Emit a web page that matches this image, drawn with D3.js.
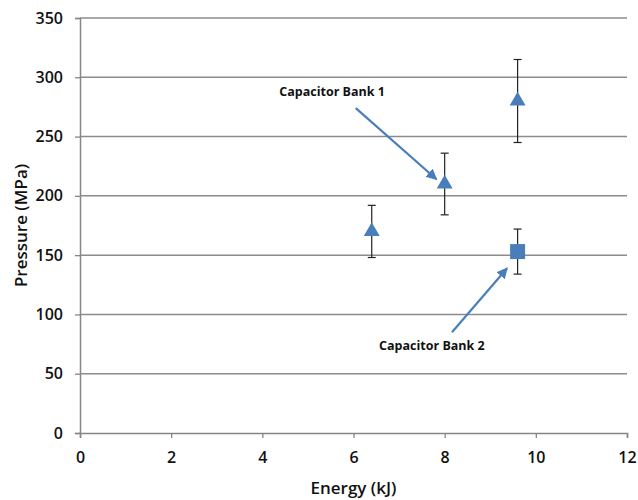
<!DOCTYPE html>
<html>
<head>
<meta charset="utf-8">
<script src="https://cdn.jsdelivr.net/npm/d3@7"></script>
<style>
  body { margin: 0; background: #fff; }
  text { font-family: "Open Sans", "Liberation Sans", sans-serif; }
</style>
</head>
<body>
<div id="chart"></div>
<script>
// values
var bank1Energy = [6.4, 8, 9.6],
    bank1Pressure = [170, 210, 280],
    bank1Err = [22, 26, 35],
    bank2Energy = [9.6],
    bank2Pressure = [153],
    bank2Err = [19],
    xTicks = [0, 2, 4, 6, 8, 10, 12],
    yTicks = [0, 50, 100, 150, 200, 250, 300, 350];

var width = 638, height = 500,
    margin = {top: 18, right: 11, bottom: 67, left: 80},
    blue = "#4a7ebb";

var svg = d3.select("#chart").append("svg")
    .attr("width", width)
    .attr("height", height);

var x = d3.scaleLinear().domain([0, 12]).range([margin.left, width - margin.right]);
var y = d3.scaleLinear().domain([0, 350]).range([height - margin.bottom, margin.top]);

// gridlines
svg.selectAll("line.grid")
    .data(yTicks.filter(function (d) { return d > 0; }))
    .enter().append("line")
    .attr("class", "grid")
    .attr("x1", x(0)).attr("x2", x(12))
    .attr("y1", function (d) { return y(d); })
    .attr("y2", function (d) { return y(d); })
    .attr("stroke", "#8c8c8c")
    .attr("stroke-width", 1.5);

// axes
var yAxis = svg.append("g")
    .attr("transform", "translate(" + x(0) + ",0)")
    .call(d3.axisLeft(y).tickValues(yTicks).tickSize(5).tickPadding(12));
var xAxis = svg.append("g")
    .attr("transform", "translate(0," + y(0) + ")")
    .call(d3.axisBottom(x).tickValues(xTicks).tickSize(5).tickPadding(14));

[xAxis, yAxis].forEach(function (a) {
    a.select(".domain").attr("stroke", "#868686").attr("stroke-width", 1.5);
    a.selectAll(".tick line").attr("stroke", "#868686").attr("stroke-width", 1.3);
    a.selectAll(".tick text")
        .attr("fill", "#111")
        .style("font-size", "16px")
        .style("font-weight", "600");
});

// axis titles
svg.append("text")
    .attr("transform", "translate(27," + y(175) + ") rotate(-90)")
    .attr("text-anchor", "middle")
    .style("font-size", "17px")
    .style("font-weight", "600")
    .attr("fill", "#111")
    .text("Pressure (MPa)");
svg.append("text")
    .attr("x", (x(0) + x(12)) / 2)
    .attr("y", 494)
    .attr("text-anchor", "middle")
    .style("font-size", "17px")
    .style("font-weight", "600")
    .attr("fill", "#111")
    .text("Energy (kJ)");

// error bars
function drawErrors(ex, ey, ee) {
    var g = svg.append("g");
    ex.forEach(function (e, i) {
        var cx = x(e), top = y(ey[i] + ee[i]), bot = y(ey[i] - ee[i]);
        g.append("line").attr("x1", cx).attr("x2", cx).attr("y1", top).attr("y2", bot)
            .attr("stroke", "#222").attr("stroke-width", 1.2);
        [top, bot].forEach(function (yy) {
            g.append("line").attr("x1", cx - 4).attr("x2", cx + 4).attr("y1", yy).attr("y2", yy)
                .attr("stroke", "#222").attr("stroke-width", 1.2);
        });
    });
}
drawErrors(bank1Energy, bank1Pressure, bank1Err);
drawErrors(bank2Energy, bank2Pressure, bank2Err);

// markers
svg.selectAll("path.tri")
    .data(bank1Energy)
    .enter().append("path")
    .attr("class", "tri")
    .attr("d", d3.symbol().type(d3.symbolTriangle).size(110))
    .attr("transform", function (d, i) {
        return "translate(" + x(d) + "," + y(bank1Pressure[i]) + ")";
    })
    .attr("fill", blue);

svg.selectAll("rect.sq")
    .data(bank2Energy)
    .enter().append("rect")
    .attr("class", "sq")
    .attr("x", function (d) { return x(d) - 7.5; })
    .attr("y", function (d, i) { return y(bank2Pressure[i]) - 7.5; })
    .attr("width", 15).attr("height", 15)
    .attr("fill", blue);

// annotations
var defs = svg.append("defs");
defs.append("marker")
    .attr("id", "arrow")
    .attr("viewBox", "0 0 10 10")
    .attr("refX", 9).attr("refY", 5)
    .attr("markerWidth", 5).attr("markerHeight", 5)
    .attr("orient", "auto")
    .append("path")
    .attr("d", "M0,0 L10,5 L0,10 z")
    .attr("fill", blue);

function annotate(label, lx, ly, fromX, fromY, toX, toY) {
    svg.append("text")
        .attr("x", x(lx)).attr("y", y(ly))
        .attr("text-anchor", "middle")
        .style("font-size", "12.5px")
        .style("font-weight", "700")
        .attr("fill", "#111")
        .text(label);
    svg.append("line")
        .attr("x1", x(fromX)).attr("y1", y(fromY))
        .attr("x2", x(toX)).attr("y2", y(toY))
        .attr("stroke", blue)
        .attr("stroke-width", 2.2)
        .attr("marker-end", "url(#arrow)");
}
annotate("Capacitor Bank 1", 5.53, 284, 6.05, 274, 7.82, 214);
annotate("Capacitor Bank 2", 7.72, 70, 8.16, 85, 9.37, 139);
</script>
</body>
</html>
